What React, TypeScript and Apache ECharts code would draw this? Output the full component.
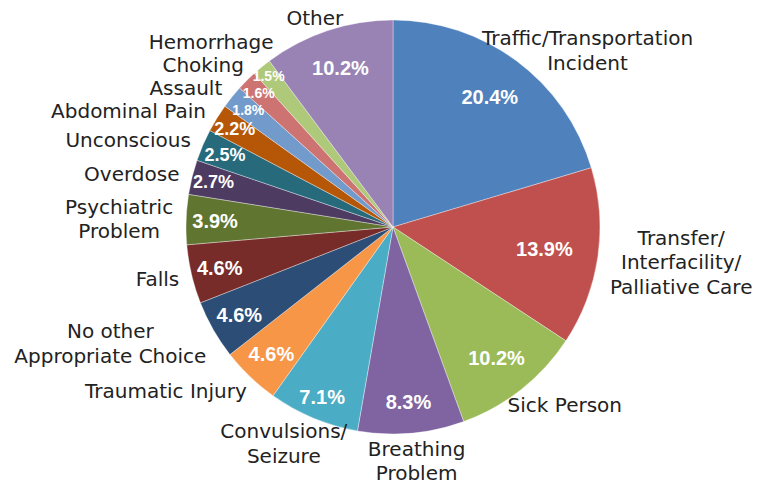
import React, { useEffect, useRef } from 'react';
import * as echarts from 'echarts';

const categories = [
  'Traffic/Transportation\nIncident',
  'Transfer/\nInterfacility/\nPalliative Care',
  'Sick Person',
  'Breathing\nProblem',
  'Convulsions/\nSeizure',
  'Traumatic Injury',
  'No other\nAppropriate Choice',
  'Falls',
  'Psychiatric\nProblem',
  'Overdose',
  'Unconscious',
  'Abdominal Pain',
  'Assault',
  'Choking',
  'Hemorrhage',
  'Other',
];
const shares = [20.4, 13.9, 10.2, 8.3, 7.1, 4.6, 4.6, 4.6, 3.9, 2.7, 2.5, 2.2, 1.8, 1.6, 1.5, 10.2];
const colors = [
  '#4F81BD', '#C0504D', '#9BBB59', '#8064A2', '#4BACC6', '#F79646',
  '#2C4D75', '#772C2A', '#5F7530', '#4D3B62', '#276A7C', '#B65708',
  '#729ACA', '#CD7371', '#AFC97A', '#9983B5',
];
// distance of each percentage label from the pie centre (style)
const pctRadii = [162, 153, 167, 176, 184, 176, 177, 178, 178, 185, 183, 186, 186, 190, 196, 167];

const CX = 393;
const CY = 227;
const R = 207;
const FONT = 'DejaVu Sans';
const PCT_FONT = 'Liberation Sans';
const LABEL_SIZE = 20;
const LH = 24.5;
const D = 220; // label anchor distance from centre
const PACK = 23; // vertical packing height per text line

const total = shares.reduce((a, b) => a + b, 0);
const midAngles: number[] = [];
{
  let acc = 0;
  for (const v of shares) {
    midAngles.push(((acc + v / 2) / total) * Math.PI * 2);
    acc += v;
  }
}
const dirs = midAngles.map((a) => [Math.sin(a), -Math.cos(a)]);
const lineCounts = categories.map((c) => c.split('\n').length);

// vertical centres of the outside labels
const labelY: number[] = dirs.map(([dx, dy], i) => {
  const h = lineCounts[i] * LH;
  return CY + D * dy + (dy > 0 ? (0.6 * dy * h) / 2 : 0);
});
{
  // pack upper-left labels upward, bottom to top
  const idx = dirs
    .map((d, i) => i)
    .filter((i) => dirs[i][0] < 0 && dirs[i][1] < 0)
    .sort((a, b) => labelY[b] - labelY[a]);
  for (let k = 1; k < idx.length; k++) {
    const i = idx[k];
    const j = idx[k - 1];
    const lim = labelY[j] - ((lineCounts[i] + lineCounts[j]) * PACK) / 2;
    labelY[i] = Math.min(labelY[i], lim);
  }
}

function pctSize(v: number): number {
  if (v >= 3.5) return 20;
  if (v >= 2) return 18;
  return 14;
}

const transparent = { color: 'rgba(0,0,0,0)', borderWidth: 0 };

// one transparent ring per slice whose 'inside' label sits at pctRadii[k]
function labelRing(k: number) {
  const inner = 2 * (pctRadii[k] - 3) - R;
  return {
    type: 'pie',
    silent: true,
    center: [CX, CY],
    radius: [inner, R],
    startAngle: 90,
    clockwise: true,
    avoidLabelOverlap: false,
    itemStyle: transparent,
    labelLine: { show: false },
    labelLayout: { hideOverlap: false },
    data: shares.map((v, i) => ({
      name: categories[i],
      value: v,
      label: {
        show: i === k,
        position: 'inside',
        formatter: v.toFixed(1) + '%',
        color: '#fff',
        fontWeight: 'bold',
        fontFamily: PCT_FONT,
        fontSize: pctSize(v),
        lineHeight: pctSize(v) < 15 ? 11 : pctSize(v),
        textBorderWidth: 0,
      },
    })),
  };
}

export default function App() {
  const ref = useRef<HTMLDivElement>(null);
  useEffect(() => {
    document.body.style.margin = '0';
    if (!ref.current) return;
    const chart = echarts.init(ref.current, null, { renderer: 'svg' });
    chart.setOption({
      animation: false,
      backgroundColor: '#fff',
      textStyle: { fontFamily: FONT },
      series: [
        {
          type: 'pie',
          silent: true,
          center: [CX, CY],
          radius: [0, R],
          startAngle: 90,
          clockwise: true,
          label: { show: false },
          labelLine: { show: false },
          itemStyle: { borderColor: 'rgba(255,255,255,0.6)', borderWidth: 0.6 },
          data: shares.map((v, i) => ({ name: categories[i], value: v, itemStyle: { color: colors[i] } })),
        },
        ...shares.map((v, k) => labelRing(k)),
        {
          type: 'pie',
          silent: true,
          center: [CX, CY],
          radius: [0, 60],
          startAngle: 90,
          clockwise: true,
          avoidLabelOverlap: false,
          itemStyle: transparent,
          label: {
            show: true,
            position: 'outside',
            color: '#222',
            fontSize: LABEL_SIZE,
            lineHeight: LH,
            fontFamily: FONT,
          },
          labelLine: { show: false, length: 0, length2: 0 },
          labelLayout: (p: any) => {
            const i = p.dataIndex;
            const [dx] = dirs[i];
            const w = p.labelRect.width;
            const y = labelY[i];
            let x: number;
            if (Math.abs(dx) >= 0.6 && dx < 0) {
              const t = D * D - (y - CY) * (y - CY);
              const right = t > 0 ? CX - Math.sqrt(t) : CX + D * dx;
              x = right - w / 2;
            } else {
              x = CX + D * dx + (dx * w) / 2;
            }
            return { x, y, align: 'center', verticalAlign: 'middle' };
          },
          data: shares.map((v, i) => ({ name: categories[i], value: v })),
        },
      ],
    });
    return () => chart.dispose();
  }, []);
  return <div ref={ref} style={{ width: 762, height: 485 }} />;
}
